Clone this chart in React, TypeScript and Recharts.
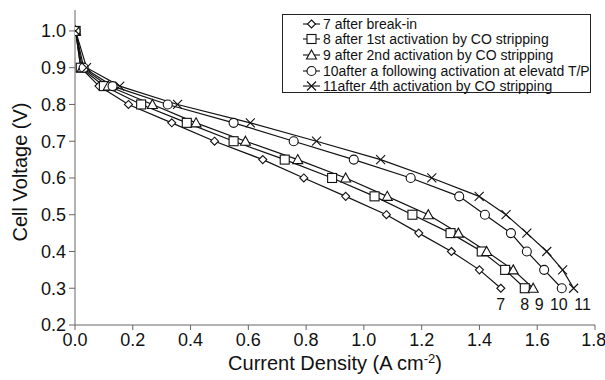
import { LineChart, Line, XAxis, YAxis } from 'recharts';

// cell voltage steps, shared by every polarisation curve (V)
const voltage = [1.0, 0.9, 0.85, 0.8, 0.75, 0.7, 0.65, 0.6, 0.55, 0.5, 0.45, 0.4, 0.35, 0.3];

// current density at each voltage step (A cm-2)
const current7 = [0.002, 0.02, 0.083, 0.185, 0.335, 0.483, 0.65, 0.792, 0.937, 1.078, 1.19, 1.303, 1.4, 1.474];
const current8 = [0.002, 0.02, 0.1, 0.229, 0.387, 0.549, 0.726, 0.89, 1.037, 1.168, 1.3, 1.408, 1.489, 1.557];
const current9 = [0.002, 0.025, 0.115, 0.268, 0.419, 0.59, 0.771, 0.937, 1.081, 1.223, 1.327, 1.425, 1.517, 1.586];
const current10 = [0.002, 0.03, 0.13, 0.321, 0.549, 0.757, 0.965, 1.162, 1.33, 1.419, 1.509, 1.564, 1.624, 1.685];
const current11 = [0.002, 0.04, 0.155, 0.355, 0.607, 0.836, 1.058, 1.235, 1.399, 1.492, 1.564, 1.633, 1.688, 1.726];

const seriesIds = ['7', '8', '9', '10', '11'];
const legendTexts = [
  '7 after break-in',
  '8 after 1st activation by CO stripping',
  '9 after 2nd activation by CO stripping',
  '10after a following activation at elevatd T/P',
  '11after 4th activation by CO stripping',
];
const xTicks = [0, 0.2, 0.4, 0.6, 0.8, 1.0, 1.2, 1.4, 1.6, 1.8];
const yTicks = [0.2, 0.3, 0.4, 0.5, 0.6, 0.7, 0.8, 0.9, 1.0];

type Shape = 'diamond' | 'square' | 'triangle' | 'circle' | 'cross';
const shapes: Shape[] = ['diamond', 'square', 'triangle', 'circle', 'cross'];
// nudge of the end-of-curve number labels, px
const endLabelDx = [0, 0, 6, -3, 9];

const toRows = (xs: number[]) => xs.map((x, i) => ({ x, v: voltage[i] }));
const curves = [current7, current8, current9, current10, current11].map(toRows);

const INK = '#111';
const FONT = 'Liberation Sans, Arial, Helvetica, sans-serif';

function Marker({ cx, cy, shape }: { cx: number; cy: number; shape: Shape }) {
  const common = { fill: '#fff', stroke: INK, strokeWidth: 1.1 };
  switch (shape) {
    case 'diamond':
      return <path d={`M${cx},${cy - 4}L${cx + 4},${cy}L${cx},${cy + 4}L${cx - 4},${cy}Z`} {...common} />;
    case 'square':
      return <rect x={cx - 4.5} y={cy - 4.5} width={9} height={9} {...common} />;
    case 'triangle':
      return <path d={`M${cx},${cy - 5}L${cx + 5},${cy + 4}L${cx - 5},${cy + 4}Z`} {...common} />;
    case 'circle':
      return <circle cx={cx} cy={cy} r={4.5} {...common} />;
    default:
      return (
        <path
          d={`M${cx - 4.5},${cy - 4.5}L${cx + 4.5},${cy + 4.5}M${cx - 4.5},${cy + 4.5}L${cx + 4.5},${cy - 4.5}`}
          stroke={INK}
          strokeWidth={1.1}
          fill="none"
        />
      );
  }
}

function LegendBox() {
  return (
    <div
      style={{
        position: 'absolute',
        left: 282,
        top: 14,
        width: 309,
        height: 79,
        border: '1px solid #222',
        background: '#fff',
        boxSizing: 'border-box',
        fontFamily: FONT,
        fontSize: 14,
        color: INK,
        paddingTop: 1,
      }}
    >
      {legendTexts.map((t, i) => (
        <div key={t} style={{ display: 'flex', alignItems: 'center', height: 15.6, whiteSpace: 'nowrap' }}>
          <svg width={40} height={14} style={{ flex: 'none' }}>
            <line x1={20} x2={37} y1={7} y2={7} stroke={INK} strokeWidth={1.1} />
            <Marker cx={28.5} cy={7} shape={shapes[i]} />
          </svg>
          <span>{t}</span>
        </div>
      ))}
    </div>
  );
}

export default function App() {
  return (
    <div style={{ position: 'absolute', left: 0, top: 0, width: 605, height: 380, background: '#fff' }}>
      <LineChart width={605} height={380} margin={{ top: 10, right: 10, left: 0, bottom: 0 }}>
        <XAxis
          type="number"
          dataKey="x"
          domain={[0, 1.8]}
          ticks={xTicks}
          allowDataOverflow
          tickFormatter={(v: number) => v.toFixed(1)}
          tick={{ fill: INK, fontSize: 18, fontFamily: FONT }}
          tickSize={5}
          tickMargin={3}
          stroke="#666"
          height={55}
          label={(props: any) => {
            const vb = props.viewBox;
            return (
              <text x={vb.x + vb.width / 2} y={370} textAnchor="middle" fill={INK} fontSize={20} fontFamily={FONT}>
                Current Density (A cm
                <tspan dy={-7} fontSize={13}>-2</tspan>
                <tspan dy={7}>)</tspan>
              </text>
            );
          }}
        />
        <XAxis xAxisId="top" orientation="top" type="number" domain={[0, 1.8]} tick={false} tickLine={false} height={0} stroke={INK} />
        <YAxis
          type="number"
          domain={[0.2, 1.057]}
          ticks={yTicks}
          allowDataOverflow
          tickFormatter={(v: number) => v.toFixed(1)}
          tick={{ fill: INK, fontSize: 18, fontFamily: FONT }}
          tickSize={6}
          tickMargin={3}
          stroke="#666"
          width={75}
          label={() => (
            <text
              x={20}
              y={172}
              transform="rotate(-90 20 172)"
              textAnchor="middle"
              dominantBaseline="central"
              fill={INK}
              fontSize={20}
              fontFamily={FONT}
            >
              Cell Voltage (V)
            </text>
          )}
        />
        <YAxis yAxisId="right" orientation="right" domain={[0.2, 1.057]} tick={false} tickLine={false} width={0} stroke={INK} />
        {curves.map((rows, s) => (
          <Line
            key={seriesIds[s]}
            name={legendTexts[s]}
            data={rows}
            dataKey="v"
            type="linear"
            stroke={INK}
            strokeWidth={1.2}
            isAnimationActive={false}
            dot={(p: any) => <Marker key={`${seriesIds[s]}-${p.index}`} cx={p.cx} cy={p.cy} shape={shapes[s]} />}
            label={(p: any) =>
              p.index === rows.length - 1 ? (
                <text
                  key={`lbl-${seriesIds[s]}`}
                  x={p.x + endLabelDx[s]}
                  y={p.y + 22}
                  textAnchor="middle"
                  fill={INK}
                  fontSize={16}
                  fontFamily={FONT}
                >
                  {seriesIds[s]}
                </text>
              ) : null
            }
          />
        ))}
      </LineChart>
      <LegendBox />
    </div>
  );
}
